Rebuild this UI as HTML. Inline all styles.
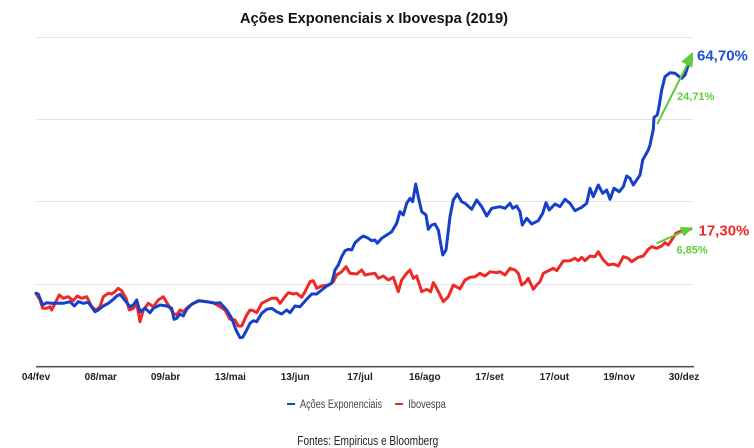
<!DOCTYPE html>
<html><head><meta charset="utf-8"><style>
html,body{margin:0;padding:0;background:#fff;}
svg{display:block;font-family:"Liberation Sans",Arial,sans-serif;}
</style></head><body>
<svg width="754" height="448" viewBox="0 0 754 448" xmlns="http://www.w3.org/2000/svg">
<rect width="754" height="448" fill="#fff"/>
<text x="240" y="23" font-size="15" font-weight="bold" fill="#111" textLength="268" lengthAdjust="spacingAndGlyphs">Ações Exponenciais x Ibovespa (2019)</text>
<g stroke="#e4e4e4" stroke-width="1">
<line x1="36" y1="37.5" x2="693" y2="37.5"/>
<line x1="36" y1="119.5" x2="693" y2="119.5"/>
<line x1="36" y1="201.5" x2="693" y2="201.5"/>
<line x1="36" y1="284.5" x2="693" y2="284.5"/>
</g>
<line x1="36" y1="366.7" x2="694" y2="366.7" stroke="#555" stroke-width="1.6"/>
<g font-size="10" font-weight="bold" fill="#222" text-anchor="middle">
<text x="36" y="380">04/fev</text>
<text x="100.8" y="380">08/mar</text>
<text x="165.6" y="380">09/abr</text>
<text x="230.4" y="380">13/mai</text>
<text x="295.2" y="380">13/jun</text>
<text x="360" y="380">17/jul</text>
<text x="424.8" y="380">16/ago</text>
<text x="489.6" y="380">17/set</text>
<text x="554.4" y="380">17/out</text>
<text x="619.2" y="380">19/nov</text>
<text x="684" y="380">30/dez</text>
</g>
<polyline fill="none" stroke="#ee2a26" stroke-width="3" stroke-linejoin="round" stroke-linecap="round" points="36,293.3 40,300 42.7,308.3 46.7,308.3 50,306.7 51.7,310 55,303.3 59.3,295 63.3,298.3 68.3,296.7 73.3,300.7 77.3,296 81.7,298.3 86.7,296.7 91.7,306.7 96,310 100,306.7 103.3,296.7 108.3,293.3 111.7,294 115,291.7 118.3,288.3 121.7,290.7 126,298.3 129.3,310 133.3,308.3 136.7,303.3 140,321.7 143.3,310 148.3,303.3 153.3,306.7 158.3,300 163.3,296.7 168.3,305 173.3,313.3 176.7,315 180,310 183.3,311.7 188.3,306.7 193.3,303.3 200,300.7 206.7,301.7 213.3,302.7 220,306.7 225,310 230,319.3 235,320 238.3,326 241.7,326 246.7,315 250,310 253.3,310.7 256.7,312.7 261.7,303.3 266.7,300.7 271.7,298.3 276.7,298.3 280,303.3 285,296.7 288.3,292.7 293.3,294 296.7,293.3 301.7,297.3 305,291.7 310,281.7 313.3,280.7 316.7,288.3 321.7,286 328.3,285 333.3,281.7 336.7,275 341.7,271.7 346,266.7 350,273.3 356.7,274 361.7,270 365,275 370,274 375,273.3 378.3,278.3 383.3,276 388.3,280 393.3,277.3 398.3,291.7 401.7,280 406.7,273.3 410,270 413.3,278.3 416.7,276 421.7,291.7 426.7,289.3 430.7,291.7 433.3,282.7 436.7,288.3 443.3,301.7 448.3,296.7 453.3,285 460,288.8 465,280 470,277.3 475,276.7 480,273.3 485,276 490,271.7 496.7,272.7 500,271.7 505,275 510,268.3 515,270 518.3,273.3 521.7,285 525,282.7 528.3,278.3 533.3,289.3 536.7,285 540,281.7 543.3,273.3 550,270 553.3,268.3 556.7,270.7 563.3,261 570,260.7 575,258.3 578.3,260.7 581.7,257.3 585,260.7 590,256 595,256.7 598.3,251.7 602.7,259.3 608.3,265 613.3,264 618.3,266 623.3,256.7 628.3,258.3 631.7,261.7 638.3,257.3 643.3,256 648.3,249.3 651.7,246.7 656.7,248.3 661.7,246 665,242.7 668.3,245 671.7,240 676,233.3 681.7,230.7 686.7,230 690.7,229"/>
<polyline fill="none" stroke="#1640c8" stroke-width="3" stroke-linejoin="round" stroke-linecap="round" points="36,293.3 38.3,294 42.7,305 46.7,302.7 51.7,303.3 63.3,303.3 70,301.7 74.3,306 78.3,301.7 83.3,303.3 88.3,302.3 95,311.7 98.3,310 103.3,306 108.3,303.3 113.3,299.3 116.7,296 120,294.3 123.3,298.3 130,306.7 133.3,305 136.7,300 140,311.7 145,308.3 150,312.7 153.3,308.3 160,305 166.7,306 171.7,308.3 174,319.3 176.7,318.3 180,314 183.3,316 186.7,309.3 191.7,304.3 198.3,300.7 206.7,301.7 215,303.3 220,302.7 226.7,310 231.7,318.3 236,330 240,337.7 242.7,337.3 246.7,330 250,323.3 253.3,320.7 256.7,321.7 261.7,313.3 266.7,309.3 271.7,308.3 276.7,311.7 281.7,314 286.7,310 290,312.7 295,306 300,306.7 306.7,299.3 311.7,294 316.7,294 321.7,290 326.7,286 331.7,283.3 335,270 338.3,265 341.7,256.7 345,250.7 348.3,249.3 351.7,250 355,242.7 360,238.3 363.3,236 368.3,238.3 371.7,240.7 375,240 377.3,243.3 381.7,238.3 386.7,235 391.7,231.7 396.7,223.3 400,211.7 403.3,215 406.7,203.3 410,198.3 412.7,201.7 415.7,184 418.3,196.7 421.7,211.7 426,215 428.3,229.3 431.7,225 435,224 438.3,230 442.7,255 446,250 450,216.7 453.3,200 457.3,194 461.7,201.7 465,203.3 471.7,209.3 476.7,200 481.7,206.7 486.7,216 491.7,208.3 500,206.7 505,208.3 510,203.3 512.7,208.3 516.7,206 520,211.7 522.3,225 526.7,218.3 531.7,224 538.3,220.7 542.7,213.3 546,202.7 549.3,210 555,204 560,206.7 565,199.3 570,203.3 575,210.7 581.7,207.3 586.7,203.3 590,188.3 593.3,196.7 598.3,185 602.7,193.3 606.7,190 610,199.3 614,188.3 619.3,191.7 623.3,186.7 626.7,176 630,178.3 633.3,185 640,175 642.7,160 648.3,150 650,145 653.3,129.3 654,117.3 657.3,115 659.3,105 661.7,90 665,76.7 670,72.7 675,73.3 679.3,76.7 681.7,78.3 685,75 688.3,65 691.7,59.3"/>
<g stroke="#5fcc3c" stroke-width="2" fill="#5fcc3c">
<line x1="657.3" y1="124" x2="688" y2="63"/>
<polygon points="692,54 691.5,66 683,61.5"/>
<line x1="656.7" y1="243.3" x2="684" y2="231.2"/>
<polygon points="692,228 684,235.5 680.5,227.5" stroke-width="1"/>
</g>
<text x="697" y="60.5" font-size="15" font-weight="bold" fill="#1f4fd0">64,70%</text>
<text x="677" y="100" font-size="11" font-weight="bold" fill="#5fcc3c">24,71%</text>
<text x="698.5" y="235.5" font-size="15" font-weight="bold" fill="#ee2a26">17,30%</text>
<text x="676.5" y="253.5" font-size="11" font-weight="bold" fill="#5fcc3c">6,85%</text>
<line x1="287" y1="404" x2="295" y2="404" stroke="#1640c8" stroke-width="2"/>
<text x="300" y="408" font-size="11.5" fill="#444" textLength="82" lengthAdjust="spacingAndGlyphs">Ações Exponenciais</text>
<line x1="395" y1="404" x2="403" y2="404" stroke="#ee2a26" stroke-width="2"/>
<text x="408.3" y="408" font-size="11.5" fill="#444" textLength="37.5" lengthAdjust="spacingAndGlyphs">Ibovespa</text>
<text x="297.3" y="445" font-size="13" fill="#222" textLength="141" lengthAdjust="spacingAndGlyphs">Fontes: Empiricus e Bloomberg</text>
</svg>
</body></html>
